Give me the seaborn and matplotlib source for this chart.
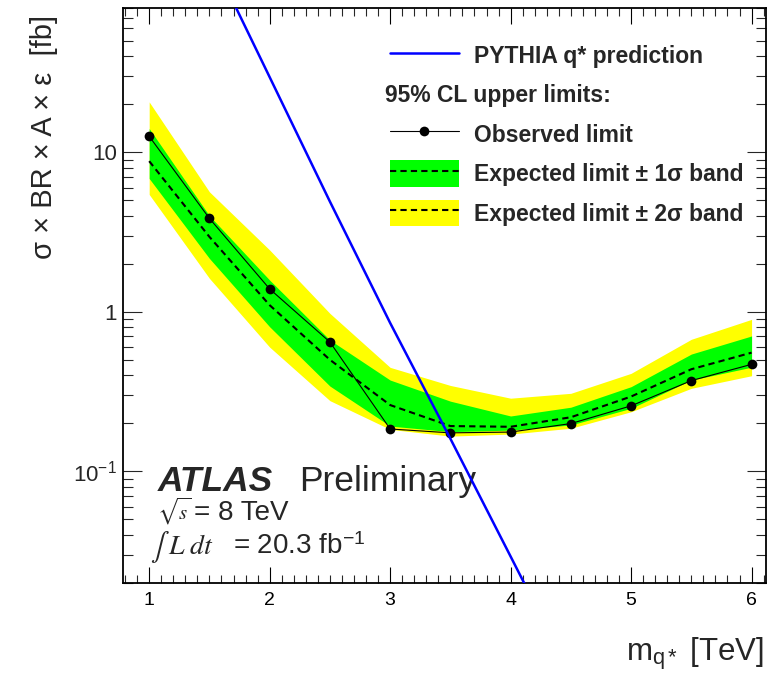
import matplotlib
matplotlib.use("Agg")
import matplotlib.pyplot as plt
import seaborn as sns
import numpy as np
from matplotlib.lines import Line2D
from matplotlib.patches import Patch
from matplotlib.ticker import FixedLocator, FixedFormatter, MultipleLocator, LogLocator, NullFormatter

# ---------------- data ----------------
mass = [1.0, 1.5, 2.0, 2.5, 3.0, 3.5, 4.0, 4.5, 5.0, 5.5, 6.0]
observed = [12.6, 3.85, 1.39, 0.646, 0.184, 0.174, 0.176, 0.199, 0.257, 0.37, 0.468]
expected = [8.8, 2.95, 1.10, 0.50, 0.26, 0.192, 0.19, 0.218, 0.294, 0.436, 0.554]
exp_p1 = [14.1, 4.0, 1.58, 0.665, 0.373, 0.275, 0.222, 0.252, 0.339, 0.543, 0.705]
exp_m1 = [6.85, 2.16, 0.805, 0.342, 0.192, 0.177, 0.181, 0.195, 0.248, 0.373, 0.449]
exp_p2 = [20.7, 5.65, 2.44, 0.977, 0.448, 0.345, 0.287, 0.308, 0.411, 0.672, 0.896]
exp_m2 = [5.44, 1.62, 0.60, 0.277, 0.183, 0.166, 0.171, 0.186, 0.236, 0.331, 0.397]

pythia_mass = [1.5, 2.0, 2.5, 3.0, 3.5, 4.0, 4.5]
pythia_xsec = [178.0, 29.6, 4.91, 0.851, 0.16, 0.0292, 0.0053]

ytick_vals = [0.1, 1, 10]
ytick_labels = [r"$\mathregular{10^{-1}}$", "1", "10"]
xtick_vals = [1, 2, 3, 4, 5, 6]

# ---------------- style ----------------
sns.set_style("ticks")
plt.rcParams['font.family'] = ['Liberation Sans', 'DejaVu Sans']
plt.rcParams['mathtext.fontset'] = 'stix'

fig = plt.figure(figsize=(7.74, 6.73), dpi=100)
ax = fig.add_axes([0.1585, 0.1342, 0.8312, 0.8535])
ax.set_yscale('log')
ax.set_xlim(0.78, 6.12)
ax.set_ylim(0.02, 80)

GREEN = '#00ff00'
YELLOW = '#ffff00'

ax.fill_between(mass, exp_m2, exp_p2, color=YELLOW, lw=0, zorder=1)
ax.fill_between(mass, exp_m1, exp_p1, color=GREEN, lw=0, zorder=2)
sns.lineplot(x=mass, y=expected, ax=ax, color='black', lw=1.5,
             linestyle=(0, (3, 2)), zorder=3, legend=False)
sns.lineplot(x=mass, y=observed, ax=ax, color='black', lw=0.8, marker='o',
             markersize=7, markeredgewidth=0, zorder=4, legend=False)
sns.lineplot(x=pythia_mass, y=pythia_xsec, ax=ax, color='#0000ff', lw=1.8,
             zorder=5, legend=False)

# ticks
ax.xaxis.set_major_locator(FixedLocator(xtick_vals))
ax.xaxis.set_minor_locator(MultipleLocator(0.1))
ax.yaxis.set_major_locator(FixedLocator(ytick_vals))
ax.yaxis.set_major_formatter(FixedFormatter(ytick_labels))
ax.yaxis.set_minor_locator(LogLocator(base=10, subs=np.arange(2, 10), numticks=20))
ax.yaxis.set_minor_formatter(NullFormatter())
ax.tick_params(axis='x', which='major', direction='in', length=11.5, width=0.8,
               top=True, labelsize=14, pad=7, colors='black')
ax.tick_params(axis='x', which='minor', direction='in', length=5.8, width=0.8, top=True)
ax.tick_params(axis='y', which='major', direction='in', length=14, width=0.8,
               right=True, labelsize=16, pad=4)
ax.tick_params(axis='y', which='minor', direction='in', length=7, width=0.8, right=True)
for sp in ax.spines.values():
    sp.set_linewidth(1.3)
    sp.set_color('black')

ax.set_ylabel("σ × BR × A × ε  [fb]", fontsize=21, loc='top')
ax.yaxis.set_label_coords(-0.100, 0.988)
ax.set_xlabel(r"m$_{\mathregular{q*}}$ [TeV]", fontsize=22.5, loc='right')
ax.xaxis.set_label_coords(0.997, -0.092)

# ATLAS labels
ax.text(0.055, 0.160, "ATLAS", transform=ax.transAxes, fontsize=25.5,
        fontweight='bold', fontstyle='italic', va='baseline')
ax.text(0.274, 0.160, "Preliminary", transform=ax.transAxes, fontsize=25.5,
        va='baseline')
ax.text(0.053, 0.1096, r"$\sqrt{s}$", transform=ax.transAxes,
        fontsize=15, va='baseline')
ax.text(0.1109, 0.1096, "= 8 TeV", transform=ax.transAxes,
        fontsize=20, va='baseline')
ax.text(0.042, 0.0497, r"$\int\;L\;dt$", transform=ax.transAxes,
        fontsize=20, va='baseline')
ax.text(0.171, 0.0497, r"= 20.3 fb$^{\mathregular{-1}}$",
        transform=ax.transAxes, fontsize=20, va='baseline')

# legend
dash = (0, (3, 2))
handles = [
    Line2D([], [], color='#0000ff', lw=1.8),
    Line2D([], [], color='none'),
    Line2D([], [], color='black', lw=0.8, marker='o', markersize=7, markeredgewidth=0),
    (Patch(facecolor=GREEN, edgecolor='none'), Line2D([], [], color='black', lw=1.5, linestyle=dash)),
    (Patch(facecolor=YELLOW, edgecolor='none'), Line2D([], [], color='black', lw=1.5, linestyle=dash)),
]
labels = ["PYTHIA q* prediction", "Ag", "Observed limit",
          "Expected limit ± 1σ band", "Expected limit ± 2σ band"]
leg = ax.legend(handles, labels, loc='upper left', bbox_to_anchor=(0.4155, 0.9405),
                frameon=False, borderpad=0, borderaxespad=0, handlelength=3.0,
                handleheight=1.4, handletextpad=0.655, labelspacing=0.56,
                numpoints=1, prop={'weight': 'bold', 'size': 16.5})
leg.get_texts()[1].set_visible(False)
ax.text(0.408, 0.849, "95% CL upper limits:", transform=ax.transAxes,
        fontsize=16.5, fontweight='bold', va='center')

fig.savefig("out.png", dpi=100)
